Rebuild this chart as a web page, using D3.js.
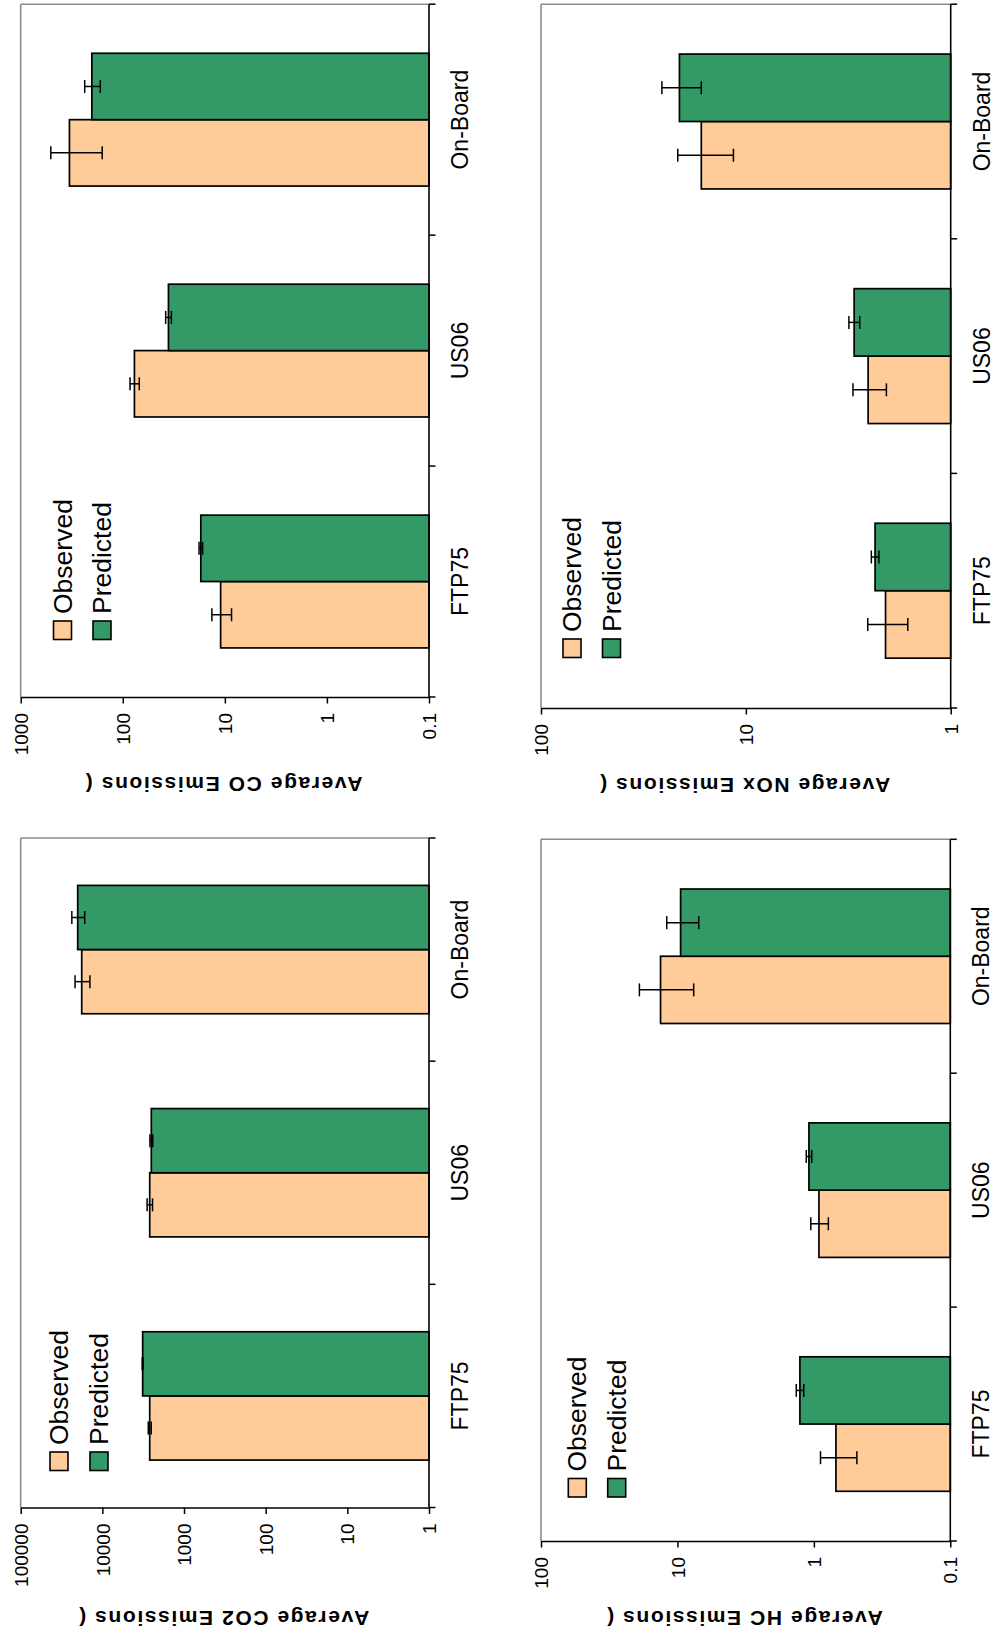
<!DOCTYPE html>
<html>
<head>
<meta charset="utf-8">
<script src="https://cdn.jsdelivr.net/npm/d3@7"></script>
<style>
  body { margin: 0; background: #fff; }
  svg { display: block; font-family: "Liberation Sans", Arial, Helvetica, sans-serif; }
</style>
</head>
<body>
<svg id="chart" width="995" height="1638"></svg>
<script>
// ---------------- DATA ----------------
const categories = ["FTP75", "US06", "On-Board"];
const seriesNames = ["Observed", "Predicted"];

const coObserved     = [11.0, 76.9, 333];
const coObservedErr  = [2.4, 8, 174];
const coPredicted    = [17.2, 35.7, 201];
const coPredictedErr = [0.7, 2.3, 35];
const coTicks        = [1000, 100, 10, 1, 0.1];
const coTickLabels   = ["1000", "100", "10", "1", "0.1"];

const co2Observed     = [2630, 2630, 17900];
const co2ObservedErr  = [110, 200, 3700];
const co2Predicted    = [3210, 2515, 20050];
const co2PredictedErr = [40, 100, 3600];
const co2Ticks        = [100000, 10000, 1000, 100, 10, 1];
const co2TickLabels   = ["100000", "10000", "1000", "100", "10", "1"];

const noxObserved     = [2.08, 2.53, 16.5];
const noxObservedErr  = [0.46, 0.47, 5.0];
const noxPredicted    = [2.34, 2.96, 21.1];
const noxPredictedErr = [0.1, 0.18, 4.6];
const noxTicks        = [100, 10, 1];
const noxTickLabels   = ["100", "10", "1"];

const hcObserved     = [0.689, 0.918, 13.3];
const hcObservedErr  = [0.205, 0.135, 5.7];
const hcPredicted    = [1.266, 1.087, 9.48];
const hcPredictedErr = [0.08, 0.05, 2.5];
const hcTicks        = [100, 10, 1, 0.1];
const hcTickLabels   = ["100", "10", "1", "0.1"];

const titles = ["Average CO Emissions (", "Average CO2 Emissions (", "Average NOx Emissions (", "Average HC Emissions ("];
const seriesColors = ["#FFCC99", "#339966"];

// ---------------- LAYOUT ----------------
const panels = [
  { title: titles[0], obs: coObserved, obsErr: coObservedErr, pred: coPredicted, predErr: coPredictedErr,
    min: 0.1, max: 1000, ticks: coTicks, tickLabels: coTickLabels,
    left: 20.7, right: 429, top: 4.2, bottom: 697, titleY: 777, legendX: [53.5, 93], legendY: 621 },
  { title: titles[1], obs: co2Observed, obsErr: co2ObservedErr, pred: co2Predicted, predErr: co2PredictedErr,
    min: 1, max: 100000, ticks: co2Ticks, tickLabels: co2TickLabels,
    left: 20.7, right: 429, top: 838, bottom: 1507.5, titleY: 1611, legendX: [50, 90], legendY: 1452 },
  { title: titles[2], obs: noxObserved, obsErr: noxObservedErr, pred: noxPredicted, predErr: noxPredictedErr,
    min: 1, max: 100, ticks: noxTicks, tickLabels: noxTickLabels,
    left: 541, right: 950.7, top: 4.2, bottom: 708, titleY: 778, legendX: [563, 602.5], legendY: 639 },
  { title: titles[3], obs: hcObserved, obsErr: hcObservedErr, pred: hcPredicted, predErr: hcPredictedErr,
    min: 0.1, max: 100, ticks: hcTicks, tickLabels: hcTickLabels,
    left: 541, right: 950.3, top: 839.3, bottom: 1541, titleY: 1611, legendX: [568.3, 607.7], legendY: 1478.5 }
];

const svg = d3.select("#chart");

function drawPanel(p) {
  const g = svg.append("g");
  const x = d3.scaleLog().domain([p.min, p.max]).range([p.right, p.left]);
  const y = d3.scaleBand().domain(categories).range([p.bottom, p.top])
    .paddingInner(0.425).paddingOuter(0.2125);
  const yb = d3.scaleBand().domain(categories).range([p.bottom, p.top]).padding(0);
  const ys = d3.scaleBand().domain(seriesNames).range([y.bandwidth(), 0]);

  // plot-area frame (grey top and left edges)
  g.append("line").attr("x1", p.left).attr("x2", p.right).attr("y1", p.top).attr("y2", p.top)
    .attr("stroke", "#8c8c8c").attr("stroke-width", 1.6);
  g.append("line").attr("x1", p.left).attr("x2", p.left).attr("y1", p.top).attr("y2", p.bottom)
    .attr("stroke", "#8c8c8c").attr("stroke-width", 1.6);

  const seriesData = [
    { name: seriesNames[0], values: p.obs, errs: p.obsErr, color: seriesColors[0] },
    { name: seriesNames[1], values: p.pred, errs: p.predErr, color: seriesColors[1] }
  ];

  // bars
  seriesData.forEach(s => {
    g.selectAll(null).data(categories).enter().append("rect")
      .attr("x", (c, i) => x(s.values[i]))
      .attr("y", c => y(c) + ys(s.name))
      .attr("width", (c, i) => p.right - x(s.values[i]))
      .attr("height", ys.bandwidth())
      .attr("fill", s.color)
      .attr("stroke", "#000")
      .attr("stroke-width", 1.7);
  });

  // error bars
  seriesData.forEach(s => {
    categories.forEach((c, i) => {
      const cy = y(c) + ys(s.name) + ys.bandwidth() / 2;
      const x1 = x(s.values[i] + s.errs[i]);
      const x2 = x(s.values[i] - s.errs[i]);
      const eg = g.append("g").attr("stroke", "#000").attr("stroke-width", 1.5);
      eg.append("line").attr("x1", x1).attr("x2", x2).attr("y1", cy).attr("y2", cy);
      eg.append("line").attr("x1", x1).attr("x2", x1).attr("y1", cy - 6.5).attr("y2", cy + 6.5);
      eg.append("line").attr("x1", x2).attr("x2", x2).attr("y1", cy - 6.5).attr("y2", cy + 6.5);
    });
  });

  // category axis (right side)
  g.append("line").attr("x1", p.right).attr("x2", p.right).attr("y1", p.top).attr("y2", p.bottom)
    .attr("stroke", "#000").attr("stroke-width", 1.6);
  const bounds = [];
  categories.forEach(c => { bounds.push(yb(c)); bounds.push(yb(c) + yb.bandwidth()); });
  const uniq = Array.from(new Set(bounds.map(v => Math.round(v * 100) / 100)));
  g.selectAll(null).data(uniq).enter().append("line")
    .attr("x1", p.right).attr("x2", p.right + 6.5)
    .attr("y1", d => d).attr("y2", d => d)
    .attr("stroke", "#000").attr("stroke-width", 1.5);
  g.selectAll(null).data(categories).enter().append("text")
    .attr("transform", c => `translate(${p.right + 39},${yb(c) + yb.bandwidth() / 2}) rotate(-90)`)
    .attr("text-anchor", "middle")
    .style("font-size", "23px")
    .attr("fill", "#000")
    .text(c => c);

  // value axis (bottom)
  const ax = d3.axisBottom(x).tickValues(p.ticks)
    .tickFormat((d, i) => p.tickLabels[i]).tickSize(6.5).tickSizeOuter(0);
  const axg = g.append("g").attr("transform", `translate(0,${p.bottom})`).call(ax)
    .attr("font-family", null).attr("font-size", null);
  axg.select(".domain").attr("stroke", "#000").attr("stroke-width", 1.6);
  axg.selectAll(".tick line").attr("stroke", "#000").attr("stroke-width", 1.5);
  axg.selectAll(".tick text")
    .attr("transform", "rotate(-90)")
    .attr("x", -16).attr("y", 0).attr("dy", "0.35em")
    .attr("text-anchor", "end")
    .attr("fill", "#000")
    .style("font-size", "19px");

  // axis title (upside down)
  g.append("text")
    .attr("transform", `translate(${(p.left + p.right) / 2 - 1.5},${p.titleY}) rotate(180)`)
    .attr("text-anchor", "middle")
    .style("font-size", "21px")
    .style("font-weight", "bold")
    .style("letter-spacing", "1.6px")
    .attr("fill", "#000")
    .text(p.title);

  // legend
  seriesData.forEach((s, i) => {
    const sx = p.legendX[i];
    g.append("rect").attr("x", sx).attr("y", p.legendY).attr("width", 18).attr("height", 18.5)
      .attr("fill", s.color).attr("stroke", "#000").attr("stroke-width", 1.6);
    g.append("text")
      .attr("transform", `translate(${sx + 18},${p.legendY - 7}) rotate(-90)`)
      .attr("text-anchor", "start")
      .style("font-size", "26.5px")
      .attr("fill", "#000")
      .text(s.name);
  });
}

panels.forEach(drawPanel);
</script>
</body>
</html>
